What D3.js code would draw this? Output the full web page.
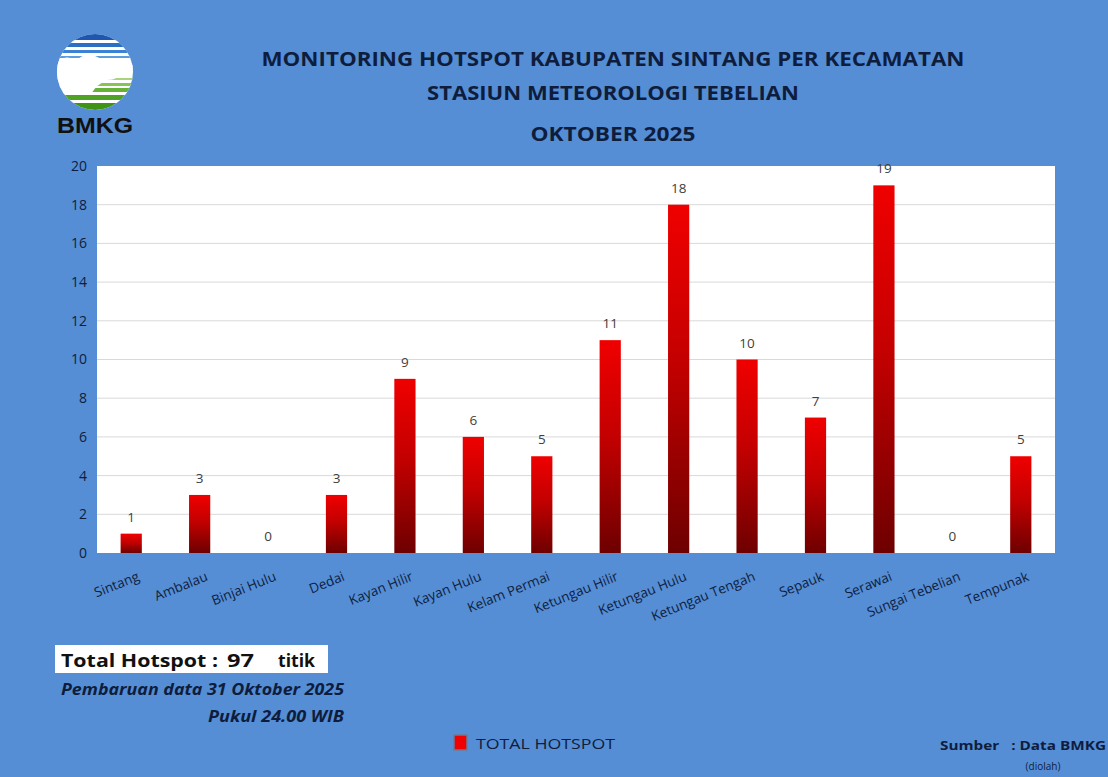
<!DOCTYPE html>
<html>
<head>
<meta charset="utf-8">
<script src="https://cdn.jsdelivr.net/npm/d3@7"></script>
<style>
  body { margin: 0; background: #558ed5; }
  svg { display: block; font-family: "Open Sans", "Noto Sans", sans-serif; }
</style>
</head>
<body>
<div id="chart"></div>
<script>
// data
var kecamatan = ["Sintang", "Ambalau", "Binjai Hulu", "Dedai", "Kayan Hilir", "Kayan Hulu",
	"Kelam Permai", "Ketungau Hilir", "Ketungau Hulu", "Ketungau Tengah", "Sepauk",
	"Serawai", "Sungai Tebelian", "Tempunak"];
var hotspot = [1, 3, 0, 3, 9, 6, 5, 11, 18, 10, 7, 19, 0, 5];
var yTicks = [0, 2, 4, 6, 8, 10, 12, 14, 16, 18, 20];
var titleLines = ["MONITORING HOTSPOT KABUPATEN SINTANG PER KECAMATAN",
	"STASIUN METEOROLOGI TEBELIAN", "OKTOBER 2025"];

var W = 1108, H = 777;
var margin = { top: 166, right: 53, bottom: 224, left: 97 };
var width = W - margin.left - margin.right;
var height = H - margin.top - margin.bottom;
var navy = "#0f1d3d";

var svg = d3.select("#chart").append("svg")
	.attr("width", W)
	.attr("height", H);

svg.append("rect").attr("width", W).attr("height", H).attr("fill", "#558ed5");

var defs = svg.append("defs");
var grad = defs.append("linearGradient")
	.attr("id", "barGrad")
	.attr("x1", 0).attr("y1", 0).attr("x2", 0).attr("y2", 1);
grad.append("stop").attr("offset", "0%").attr("stop-color", "#f00000");
grad.append("stop").attr("offset", "45%").attr("stop-color", "#c40000");
grad.append("stop").attr("offset", "100%").attr("stop-color", "#6e0000");

// logo (BMKG)
var logo = svg.append("g").attr("transform", "translate(95,72)");
defs.append("clipPath").attr("id", "logoClip")
	.append("circle").attr("r", 38);
var lg = logo.append("g").attr("clip-path", "url(#logoClip)");
lg.append("rect").attr("x", -40).attr("y", -40).attr("width", 80).attr("height", 80).attr("fill", "#fff");
[[-40, 8, "#1d58b0"], [-29, 4, "#2a6fc4"], [-22, 3, "#3a82d4"], [-16, 2, "#5b9ee0"]]
	.forEach(function (s) {
		lg.append("rect").attr("x", -40).attr("y", s[0]).attr("width", 80).attr("height", s[1]).attr("fill", s[2]);
	});
[[6, 2, "#a8d47c"], [11, 3, "#86c455"], [16, 4, "#64b236"], [23, 5, "#4fa324"], [31, 9, "#3f9418"]]
	.forEach(function (s) {
		lg.append("rect").attr("x", -40).attr("y", s[0]).attr("width", 80).attr("height", s[1]).attr("fill", s[2]);
	});
lg.append("path")
	.attr("d", "M-40,-10 Q-30,-18 -18,-12 Q-8,-22 6,-13 Q18,-16 22,-7 L40,-7 L40,-2 L24,-2 Q26,8 12,8 Q2,12 -4,22 Q-20,20 -40,24 Z")
	.attr("fill", "#fff");
svg.append("text")
	.attr("x", 57).attr("y", 133)
	.attr("font-family", "Liberation Sans, Arial, sans-serif")
	.attr("font-weight", "bold")
	.attr("font-size", 22)
	.attr("textLength", 76).attr("lengthAdjust", "spacingAndGlyphs")
	.attr("fill", "#111")
	.text("BMKG");

// titles
var titleY = [66, 100, 141];
var titleLen = [703, 372, 165];
svg.selectAll(".title").data(titleLines).enter()
	.append("text")
	.attr("class", "title")
	.attr("x", 613)
	.attr("y", function (d, i) { return titleY[i]; })
	.attr("text-anchor", "middle")
	.attr("font-weight", "bold")
	.attr("font-size", 19.5)
	.attr("fill", navy)
	.attr("textLength", function (d, i) { return titleLen[i]; })
	.attr("lengthAdjust", "spacingAndGlyphs")
	.text(function (d) { return d; });

var g = svg.append("g")
	.attr("transform", "translate(" + margin.left + "," + margin.top + ")");

g.append("rect").attr("width", width).attr("height", height).attr("fill", "#fff");

var x = d3.scaleBand().domain(kecamatan).range([0, width]).paddingInner(0.69).paddingOuter(0.345);
var y = d3.scaleLinear().domain([0, 20]).range([height, 0]);

// gridlines
g.selectAll(".grid").data(yTicks.slice(1, -1)).enter()
	.append("line")
	.attr("x1", 0).attr("x2", width)
	.attr("y1", function (d) { return y(d); })
	.attr("y2", function (d) { return y(d); })
	.attr("stroke", "#d9d9d9")
	.attr("stroke-width", 1);

// y axis
var yAxis = g.append("g")
	.call(d3.axisLeft(y).tickValues(yTicks).tickSize(0).tickPadding(10));
yAxis.select(".domain").remove();
yAxis.selectAll("text")
	.attr("font-family", "Open Sans, sans-serif")
	.attr("font-size", 14)
	.attr("fill", navy);

// bars
g.selectAll(".bar").data(hotspot).enter()
	.append("rect")
	.attr("class", "bar")
	.attr("x", function (d, i) { return x(kecamatan[i]); })
	.attr("y", function (d) { return y(d); })
	.attr("width", x.bandwidth())
	.attr("height", function (d) { return height - y(d); })
	.attr("fill", "url(#barGrad)");

// value labels
g.selectAll(".val").data(hotspot).enter()
	.append("text")
	.attr("class", "val")
	.attr("x", function (d, i) { return x(kecamatan[i]) + x.bandwidth() / 2; })
	.attr("y", function (d) { return y(d) - 12; })
	.attr("text-anchor", "middle")
	.attr("font-size", 13.5)
	.attr("fill", "#404040")
	.text(function (d) { return d; });

// x axis
var xAxis = g.append("g")
	.attr("transform", "translate(0," + height + ")")
	.call(d3.axisBottom(x).tickSize(0).tickPadding(0));
xAxis.select(".domain").remove();
xAxis.selectAll("text")
	.attr("font-family", "Open Sans, sans-serif")
	.attr("font-size", 13.5)
	.attr("fill", navy)
	.attr("text-anchor", "end")
	.attr("dy", 0)
	.attr("transform", "translate(9,27) rotate(-22)");

// total box
svg.append("rect")
	.attr("x", 55).attr("y", 645).attr("width", 273).attr("height", 28)
	.attr("fill", "#fff");
var totalText = svg.append("g").attr("font-weight", "bold").attr("font-size", 17.5).attr("fill", "#111");
totalText.append("text").attr("x", 61).attr("y", 667)
	.attr("textLength", 157).attr("lengthAdjust", "spacingAndGlyphs").text("Total Hotspot :");
totalText.append("text").attr("x", 227).attr("y", 667)
	.attr("textLength", 27).attr("lengthAdjust", "spacingAndGlyphs").text(d3.sum(hotspot));
totalText.append("text").attr("x", 278).attr("y", 667)
	.attr("textLength", 37).attr("lengthAdjust", "spacingAndGlyphs").text("titik");

svg.append("text")
	.attr("x", 344).attr("y", 695)
	.attr("text-anchor", "end")
	.attr("font-weight", "bold").attr("font-style", "italic")
	.attr("font-size", 15.5)
	.attr("textLength", 283).attr("lengthAdjust", "spacingAndGlyphs")
	.attr("fill", navy)
	.text("Pembaruan data 31 Oktober 2025");
svg.append("text")
	.attr("x", 344).attr("y", 722)
	.attr("text-anchor", "end")
	.attr("font-weight", "bold").attr("font-style", "italic")
	.attr("font-size", 15.5)
	.attr("textLength", 136).attr("lengthAdjust", "spacingAndGlyphs")
	.attr("fill", navy)
	.text("Pukul 24.00 WIB");

// legend
svg.append("rect")
	.attr("x", 454).attr("y", 735).attr("width", 13).attr("height", 15)
	.attr("fill", "#f00000").attr("stroke", "#6b7b95").attr("stroke-width", 1.5);
svg.append("text")
	.attr("x", 476).attr("y", 749)
	.attr("font-size", 15)
	.attr("textLength", 139).attr("lengthAdjust", "spacingAndGlyphs")
	.attr("fill", navy)
	.text("TOTAL HOTSPOT");

// source
svg.append("text")
	.attr("x", 940).attr("y", 750)
	.attr("font-weight", "bold").attr("font-size", 13)
	.attr("fill", navy)
	.attr("xml:space", "preserve")
	.attr("textLength", 166).attr("lengthAdjust", "spacingAndGlyphs")
	.text("Sumber   : Data BMKG");
svg.append("text")
	.attr("x", 1043).attr("y", 770)
	.attr("text-anchor", "middle")
	.attr("font-size", 10)
	.attr("fill", navy)
	.text("(diolah)");
</script>
</body>
</html>
